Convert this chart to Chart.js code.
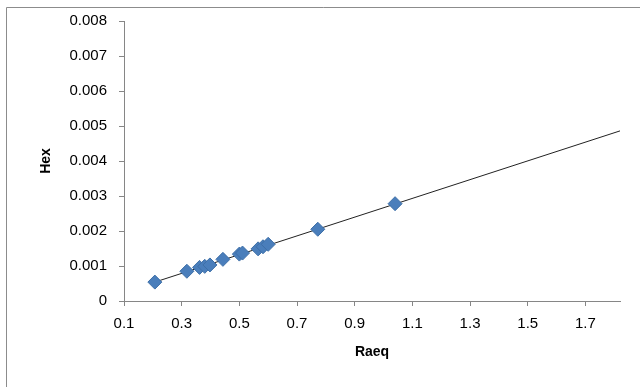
<html lang="en">
<head>
    <meta charset="UTF-8">
    <title>Hex vs Raeq</title>
    <style>
        body { margin: 0; background: #fff; }
        .chart-container { width: 640px; height: 387px; }
    </style>
</head>
<body>
    <div class="chart-container">
        <canvas id="hexChart" width="640" height="387"></canvas>
    </div>

    <script src="https://cdn.jsdelivr.net/npm/chart.js"></script>
    <script>
        // Measured points
        const raeq = [0.207, 0.318, 0.362, 0.380, 0.398, 0.443, 0.500, 0.511, 0.565, 0.582, 0.600, 0.772, 1.040];
        const hex = [0.00054, 0.00085, 0.00096, 0.00099, 0.00103, 0.00119, 0.00134, 0.00137, 0.00149, 0.00155, 0.00162, 0.00205, 0.00278];

        // Linear trendline (forecast forward to the end of the axis)
        const trendX = [0.207, 1.82];
        const trendY = [0.00054, 0.00486];

        // Axis tick labels
        const xTicks = [0.1, 0.3, 0.5, 0.7, 0.9, 1.1, 1.3, 1.5, 1.7];
        const yTicks = [0, 0.001, 0.002, 0.003, 0.004, 0.005, 0.006, 0.007, 0.008];

        const axisFont = { family: 'Liberation Sans, Arial, sans-serif', size: 15 };
        const titleFont = { family: 'Liberation Sans, Arial, sans-serif', size: 14, weight: 'bold' };

        // Frame like the spreadsheet chart border
        const frame = {
            id: 'frame',
            beforeDraw(chart) {
                const c = chart.ctx;
                c.save();
                c.fillStyle = '#fff';
                c.fillRect(0, 0, chart.width, chart.height);
                c.strokeStyle = '#8c8c8c';
                c.lineWidth = 1;
                c.beginPath();
                c.moveTo(6.5, chart.height);
                c.lineTo(6.5, 7.5);
                c.lineTo(chart.width, 7.5);
                c.stroke();
                c.restore();
            }
        };

        const ctx = document.getElementById('hexChart').getContext('2d');
        new Chart(ctx, {
            type: 'scatter',
            data: {
                datasets: [{
                    label: 'Trend',
                    data: trendX.map((x, i) => ({ x: x, y: trendY[i] })),
                    showLine: true,
                    borderColor: '#222',
                    borderWidth: 1,
                    pointRadius: 0,
                    order: 2
                }, {
                    label: 'Hex',
                    data: raeq.map((x, i) => ({ x: x, y: hex[i] })),
                    pointStyle: 'rectRot',
                    pointRadius: 7,
                    backgroundColor: '#4a7ebb',
                    borderColor: '#3d6fa8',
                    borderWidth: 1,
                    order: 1
                }]
            },
            options: {
                responsive: false,
                animation: false,
                layout: { padding: { left: 0, top: 16, right: 20, bottom: 14 } },
                plugins: {
                    legend: { display: false },
                    tooltip: { enabled: false }
                },
                scales: {
                    x: {
                        type: 'linear',
                        min: 0.1,
                        max: 1.82,
                        afterBuildTicks: s => { s.ticks = xTicks.map(v => ({ value: v })); },
                        afterFit: s => { s.height = 72; },
                        border: { color: '#868686' },
                        grid: { drawOnChartArea: false, tickLength: 5, color: '#868686' },
                        ticks: { color: '#000', font: axisFont, padding: 9, maxRotation: 0,
                                 callback: v => v.toFixed(1) },
                        title: { display: true, text: 'Raeq', color: '#000', font: titleFont,
                                 padding: { top: 0, bottom: 12 } }
                    },
                    y: {
                        min: 0,
                        max: 0.008,
                        afterBuildTicks: s => { s.ticks = yTicks.map(v => ({ value: v })); },
                        afterFit: s => { s.width = 124; },
                        border: { color: '#868686' },
                        grid: { drawOnChartArea: false, tickLength: 5, color: '#868686' },
                        ticks: { color: '#000', font: axisFont, padding: 12,
                                 callback: v => v === 0 ? '0' : v.toFixed(3) },
                        title: { display: true, text: 'Hex', color: '#000', font: titleFont,
                                 padding: { top: 38, bottom: 0 } }
                    }
                }
            },
            plugins: [frame]
        });
    </script>
</body>
</html>
